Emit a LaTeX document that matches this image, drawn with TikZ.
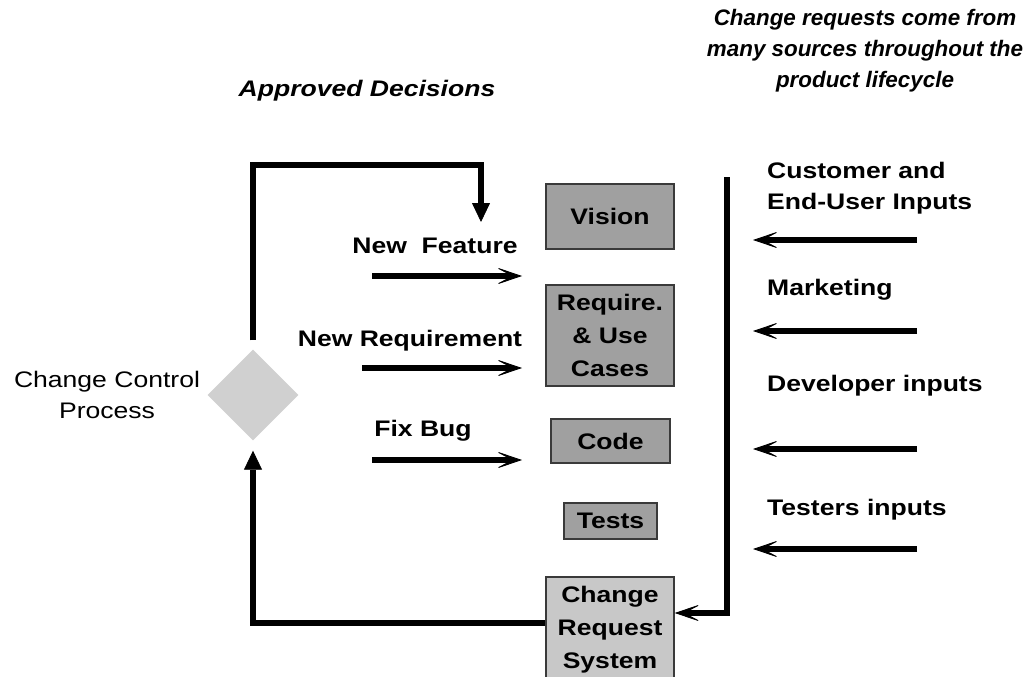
\documentclass[tikz,border=0pt]{standalone}
\usepackage{fontspec}
\setmainfont{Liberation Sans}[FakeStretch=1.18]
\newfontfamily\headfont{Liberation Sans}
\usetikzlibrary{arrows.meta,shapes.geometric}

\definecolor{boxgray}{HTML}{A0A0A0}
\definecolor{lightbox}{HTML}{C8C8C8}
\definecolor{diamondgray}{HTML}{D0D0D0}
\definecolor{edgegray}{HTML}{3A3A3A}

\begin{document}
\begin{tikzpicture}[x=1pt,y=-1pt,
  txt/.style={inner sep=0pt,font=\fontsize{22.5}{31}\selectfont},
  lbl/.style={txt,font=\fontsize{22.5}{31}\selectfont\bfseries},
  ttl/.style={txt,font=\fontsize{22.5}{31}\selectfont\bfseries\itshape,align=center},
  stagebox/.style={draw=edgegray,line width=1.4pt,fill=boxgray,align=center,
    inner sep=0pt,font=\fontsize{22.5}{33}\selectfont\bfseries},
  swept/.tip={Stealth[length=28pt,width=19pt,inset=18pt,line width=0.8pt]},
  solidhead/.tip={Triangle[length=19pt,width=18pt,line width=0.8pt]},
  flow/.style={line width=6pt,-swept},
  loop/.style={line width=6pt,line join=miter},
]
\useasboundingbox (0,0) rectangle (1029,677);

% headings
\node[ttl,font=\headfont\fontsize{22.4}{31}\selectfont\bfseries\itshape] (srcs) at (865,51)
  {Change requests come from\\many sources throughout the\\product lifecycle};
\node[ttl,anchor=base] (appr) at (367,97) {Approved Decisions};

% product artefacts
\node[stagebox,minimum width=128pt,minimum height=65pt] (vision) at (610,216.5) {Vision};
\node[stagebox,minimum width=128pt,minimum height=101pt] (req) at (610,335.5) {Require.\\\& Use\\Cases};
\node[stagebox,minimum width=119pt,minimum height=44pt] (code) at (610.5,441) {Code};
\node[stagebox,minimum width=93pt,minimum height=36pt] (tests) at (610.5,521) {Tests};
\node[stagebox,fill=lightbox,minimum width=128pt,minimum height=106pt] (crs) at (610,630) {Change\\Request\\System};

% change control decision
\node[diamond,fill=diamondgray,minimum width=91pt,minimum height=91pt,inner sep=0pt] (ccp) at (253,395) {};
\node[txt,align=center] (ccplbl) at (107,395) {Change Control\\Process};

% approved changes feeding the artefacts
\node[lbl,anchor=base] (nflbl) at (435,253) {New\ \ Feature};
\node[lbl,anchor=base] (nrlbl) at (410,346) {New Requirement};
\node[lbl,anchor=base] (fblbl) at (423,436) {Fix Bug};
\coordinate (nfA) at (372,276);  \coordinate (nfB) at (522,276);
\coordinate (nrA) at (362,368);  \coordinate (nrB) at (522,368);
\coordinate (fbA) at (372,460);  \coordinate (fbB) at (522,460);
\draw[flow] (nfA) -- (nfB);
\draw[flow] (nrA) -- (nrB);
\draw[flow] (fbA) -- (fbB);

% approval loop over the top
\coordinate (apTip) at (481,222);
\draw[loop,-solidhead] ([yshift=9pt]ccp.north) |- (253,165) -| (apTip);

% request loop back to the decision
\coordinate (crBack) at (253,623);
\draw[loop,-solidhead] (crs.west |- crBack) -- (crBack) -- ([yshift=-10pt]ccp.south);

% incoming request sources
\node[lbl,anchor=west,align=left] (cust) at (767,188) {Customer and\\End-User Inputs};
\node[lbl,anchor=base west] (mkt) at (767,295) {Marketing};
\node[lbl,anchor=base west] (dev) at (767,391) {Developer inputs};
\node[lbl,anchor=base west] (tst) at (767,515) {Testers inputs};

\coordinate (busTop) at (727,177);
\coordinate (busBot) at (727,613);
\draw[line width=5.5pt,line join=miter,-swept] (busTop) -- (busBot) -- (crs.east |- busBot);

\foreach \yy/\nm in {240/i1,331/i2,449/i3,549/i4}{
  \coordinate (\nm a) at (917,\yy);
  \coordinate (\nm b) at (753,\yy);
  \draw[flow] (\nm a) -- (\nm b);
}
\end{tikzpicture}
\end{document}
